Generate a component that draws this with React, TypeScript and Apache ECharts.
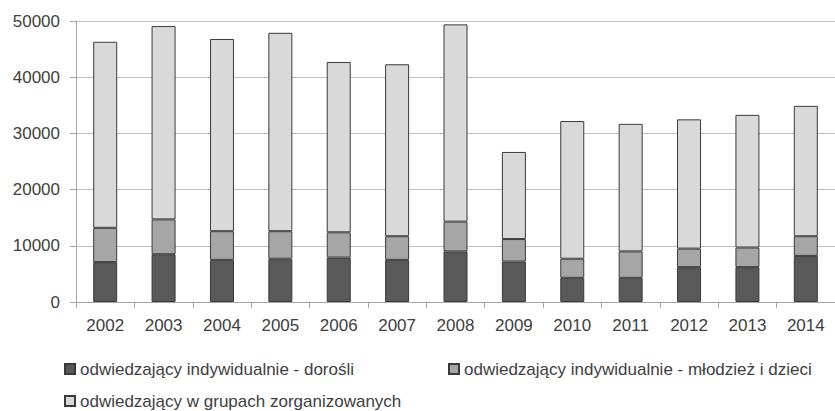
import React, { useEffect, useRef } from "react";
import * as echarts from "echarts";

const years = ["2002", "2003", "2004", "2005", "2006", "2007", "2008", "2009", "2010", "2011", "2012", "2013", "2014"];
const seriesNames = [
  "odwiedzający indywidualnie - dorośli",
  "odwiedzający indywidualnie - młodzież i dzieci",
  "odwiedzający w grupach zorganizowanych",
];
const adults = [7100, 8500, 7500, 7700, 7900, 7500, 9000, 7200, 4300, 4300, 6200, 6200, 8200];
const youth = [6100, 6200, 5100, 4900, 4500, 4200, 5300, 4000, 3400, 4700, 3300, 3500, 3500];
const groups = [33100, 34400, 34200, 35300, 30300, 30600, 35100, 15500, 24500, 22700, 23000, 23600, 23200];
const colors = ["#595959", "#a6a6a6", "#d9d9d9"];

const FONT = "'Liberation Sans', Arial, sans-serif";
const TEXT = "#404040";

export default function App() {
  const ref = useRef<HTMLDivElement>(null);
  useEffect(() => {
    document.body.style.margin = "0";
    const chart = echarts.init(ref.current!, null, { renderer: "svg" });
    const data = [adults, youth, groups];
    const legendPos = [
      { left: 59, top: 354 },
      { left: 443, top: 354 },
      { left: 59, top: 386 },
    ];
    chart.setOption({
      animation: false,
      textStyle: { fontFamily: FONT },
      grid: { left: 76, right: -9, top: 21, bottom: 109, containLabel: false },
      legend: seriesNames.map((n, i) => ({
        data: [n],
        left: legendPos[i].left,
        top: legendPos[i].top,
        itemWidth: 10,
        itemHeight: 10,
        itemGap: 5,
        icon: "rect",
        textStyle: { fontSize: 17, lineHeight: 20, color: TEXT, fontFamily: FONT },
      })),
      xAxis: {
        type: "category",
        data: years,
        axisLine: { lineStyle: { color: "#a6a6a6", width: 1 } },
        axisTick: { show: true, length: 6, lineStyle: { color: "#a6a6a6" } },
        axisLabel: { fontSize: 17, color: TEXT, margin: 15, fontFamily: FONT },
      },
      yAxis: {
        type: "value",
        min: 0,
        max: 50000,
        interval: 10000,
        axisLine: { show: true, lineStyle: { color: "#a6a6a6", width: 1 } },
        axisTick: { show: true, length: 6, lineStyle: { color: "#a6a6a6" } },
        axisLabel: {
          fontSize: 17,
          color: TEXT,
          margin: 16,
          fontFamily: FONT,
          formatter: (v: number) => String(v),
        },
        splitLine: { show: true, lineStyle: { color: "#c0c0c0", width: 1 } },
      },
      series: seriesNames.map((name, i) => ({
        name,
        type: "bar",
        stack: "total",
        barWidth: 24,
        data: data[i],
        itemStyle: { color: colors[i], borderColor: "#3a3a3a", borderWidth: 1 },
      })),
    });
    return () => chart.dispose();
  }, []);
  return <div ref={ref} style={{ width: 835, height: 411 }} />;
}
